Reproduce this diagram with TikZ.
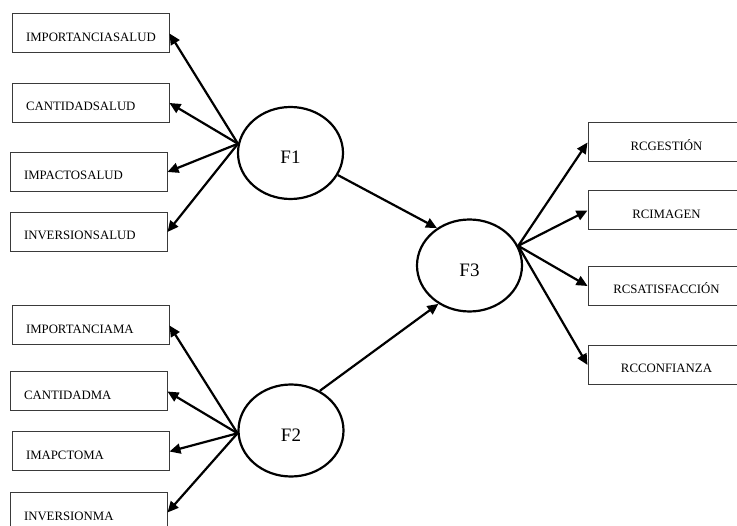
\documentclass[tikz,border=0pt]{standalone}
\usepackage{fontspec}
\setmainfont{Liberation Serif}
\usetikzlibrary{arrows.meta,shapes.geometric}
\definecolor{boxline}{HTML}{3A3A3A}
\tikzset{
  sem box/.style={draw=boxline,line width=1pt,minimum width=157pt,minimum height=39pt,inner sep=0pt,
    text height=18pt,text depth=2pt,font=\fontsize{12.8}{14}\selectfont},
  sem item/.style={sem box,text width=129pt,align=left},
  sem outcome/.style={sem box,text width=157pt,align=center},
  sem factor/.style={ellipse,draw,line width=2.2pt,minimum width=105pt,minimum height=92pt,inner sep=0pt,
    text height=22pt,text depth=0pt,font=\fontsize{19}{21}\selectfont},
  sem arrow/.style={line width=2.2pt,-{Triangle[length=11pt,width=10pt]}}
}
\begin{document}
\begin{tikzpicture}[x=1pt,y=-1pt]
  \useasboundingbox (0,0) rectangle (737,526);
  \clip (0,0) rectangle (737,526);
  \node[sem factor] (F1) at (290.5,153) {F1};
  \node[sem factor] (F2) at (291,430.5) {F2};
  \node[sem factor] (F3) at (469.5,265.5) {F3};
  \foreach \n/\x/\y/\t in {a1/90.5/33.5/IMPORTANCIASALUD,a2/90.5/103/CANTIDADSALUD,
      a3/88.5/172/IMPACTOSALUD,a4/88.5/232/INVERSIONSALUD,b1/90.5/325.5/IMPORTANCIAMA,
      b2/88.5/391.5/CANTIDADMA,b3/90.5/451.5/IMAPCTOMA,b4/88.5/512.5/INVERSIONMA}
    {\node[sem item] (\n) at (\x,\y) {\t};}
  \foreach \n/\y/\t in {c1/142.5/RCGESTIÓN,c2/210.5/RCIMAGEN,c3/286/RCSATISFACCIÓN,c4/365/RCCONFIANZA}
    {\node[sem outcome] (\n) at (666.5,\y) {\t};}
  \foreach \n in {a1,a2,a3,a4}{\draw[sem arrow] (F1.170) -- (\n.east);}
  \foreach \n in {b1,b2,b3,b4}{\draw[sem arrow] (F2.183) -- (\n.east);}
  \foreach \n in {c1,c2,c3,c4}{\draw[sem arrow] (F3.22) -- (\n.west);}
  \draw[sem arrow] (F1.-25) -- (F3.131);
  \draw[sem arrow] (F2.54) -- (F3.231);
\end{tikzpicture}
\end{document}
